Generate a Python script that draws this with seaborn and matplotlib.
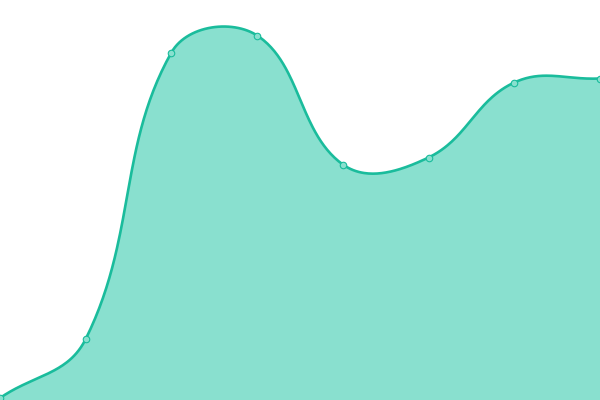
import matplotlib
matplotlib.use("Agg")
import matplotlib.pyplot as plt
import seaborn as sns
import numpy as np
import pandas as pd

# data (y axis 0..400, 8 evenly spaced points)
x_idx = [0, 1, 2, 3, 4, 5, 6, 7]
values = [2, 61, 347.5, 364.5, 235.5, 242.5, 317.5, 321.5]

line_color = "#1abc9c"
fill_color = "#89e0cf"
tension = 0.4


def spline_controls(pts, t):
    """Control points like a chart.js 'default' spline (computed in pixel space)."""
    n = len(pts)
    ctrl = []
    for i in range(n):
        prev = pts[max(i - 1, 0)]
        cur = pts[i]
        nxt = pts[min(i + 1, n - 1)]
        d01 = np.hypot(*(cur - prev))
        d12 = np.hypot(*(nxt - cur))
        tot = d01 + d12
        s01 = d01 / tot if tot else 0
        s12 = d12 / tot if tot else 0
        fa, fb = t * s01, t * s12
        ctrl.append((cur - fa * (nxt - prev), cur + fb * (nxt - prev)))
    return ctrl


sns.set_style("white")
fig = plt.figure(figsize=(6, 4), dpi=100)
ax = fig.add_axes([0, 0, 1, 1])
ax.set_xlim(0, 7)
ax.set_ylim(0, 400)
ax.set_axis_off()
fig.canvas.draw()

pix = ax.transData.transform(np.column_stack([x_idx, values]).astype(float))
bbox = ax.bbox
ctrl = spline_controls(pix, tension)

curve = []
ts = np.linspace(0, 1, 60)
for i in range(len(pix) - 1):
    p0 = pix[i]
    p1 = np.clip(ctrl[i][1], [bbox.x0, bbox.y0], [bbox.x1, bbox.y1])
    p2 = np.clip(ctrl[i + 1][0], [bbox.x0, bbox.y0], [bbox.x1, bbox.y1])
    p3 = pix[i + 1]
    seg = ((1 - ts) ** 3)[:, None] * p0 + (3 * (1 - ts) ** 2 * ts)[:, None] * p1 \
        + (3 * (1 - ts) * ts ** 2)[:, None] * p2 + (ts ** 3)[:, None] * p3
    curve.append(seg if i == 0 else seg[1:])
curve = ax.transData.inverted().transform(np.vstack(curve))

df_curve = pd.DataFrame({"x": curve[:, 0], "y": curve[:, 1]})
df_pts = pd.DataFrame({"x": x_idx, "y": values})

ax.fill_between(df_curve["x"], df_curve["y"], 0, color=fill_color, linewidth=0, zorder=1)
sns.lineplot(data=df_curve, x="x", y="y", sort=False, color=line_color, linewidth=1.9, ax=ax, zorder=2)
sns.scatterplot(data=df_pts, x="x", y="y", s=22, color=fill_color, edgecolor=line_color,
                linewidth=0.8, ax=ax, zorder=3, clip_on=False)
ax.set_xlim(0, 7)
ax.set_ylim(0, 400)
ax.set_axis_off()

fig.savefig("out.png", dpi=100)
